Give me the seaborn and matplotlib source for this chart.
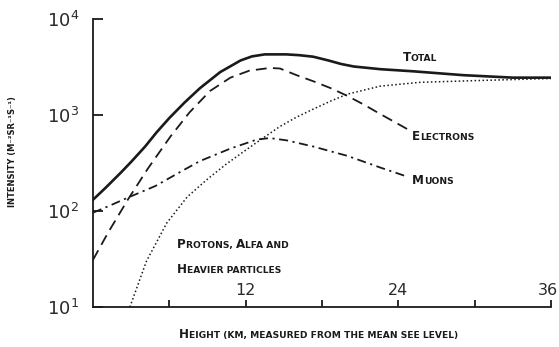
import numpy as np
import pandas as pd
import matplotlib
matplotlib.use("Agg")
import matplotlib.pyplot as plt
import matplotlib.transforms as mtransforms
import seaborn as sns
from matplotlib.offsetbox import TextArea, HPacker, AnnotationBbox
from matplotlib.ticker import NullLocator, FixedLocator

# ---- data ----
total_x = [0, 1, 2.2, 3, 4.1, 5, 6, 7.2, 8.4, 10, 11.6, 12.5, 13.5, 15.2, 16.2, 17.3, 18.5, 19.5, 20.5, 22.6, 25.2, 29.1, 33, 36]
total_y = [131, 175, 252, 325, 470, 660, 930, 1350, 1900, 2800, 3700, 4080, 4280, 4280, 4200, 4050, 3700, 3400, 3200, 3000, 2850, 2600, 2450, 2450]

elec_x = [0, 1.2, 2.75, 4.3, 6.1, 7.6, 9.2, 10.8, 12.3, 13.9, 14.7, 16, 17.3, 18.7, 20, 21.3, 22.6, 24.9]
elec_y = [31, 60, 132, 275, 600, 1070, 1780, 2450, 2900, 3090, 3050, 2600, 2250, 1900, 1580, 1280, 1020, 690]

muon_x = [0, 1.4, 2.75, 4.9, 6.9, 8.4, 10.8, 12.9, 13.9, 15.2, 17.3, 20, 22.6, 24.7]
muon_y = [96, 115, 138, 182, 257, 331, 447, 556, 575, 545, 470, 375, 283, 228]

prot_x = [2.9, 4.2, 5.8, 7.4, 9, 10.5, 12, 13.4, 14.7, 16, 17.3, 18.7, 20, 22.6, 25.7, 30, 36]
prot_y = [10, 30, 75, 140, 215, 310, 430, 580, 760, 950, 1150, 1400, 1650, 2000, 2190, 2280, 2400]

x_ticks = [6, 12, 18, 24, 30, 36]
x_tick_labels = ["", "12", "", "24", "", "36"]
y_ticks = [10, 100, 1000, 10000]

x_label = "Height (km, measured from the mean see level)"
y_label = "INTENSITY (M\u207b\u00b2SR\u207b\u00b9S\u207b\u00b9)"

sns.set_style("ticks")
plt.rcParams["font.family"] = ["DejaVu Sans"]

fig = plt.figure(figsize=(5.59, 3.47), dpi=100)
ax = fig.add_axes([93 / 559, 1 - 307 / 347, (551 - 93) / 559, (307 - 19) / 347])

ink = "#1a1a1a"
sns.lineplot(x=total_x, y=total_y, ax=ax, color=ink, lw=1.9)
sns.lineplot(x=elec_x, y=elec_y, ax=ax, color=ink, lw=1.3).lines[-1].set_dashes((6, 3.5))
sns.lineplot(x=muon_x, y=muon_y, ax=ax, color=ink, lw=1.3).lines[-1].set_dashes((5, 2.5, 1.2, 2.5))
sns.lineplot(x=prot_x, y=prot_y, ax=ax, color=ink, lw=1.1).lines[-1].set_dashes((1, 1.6))
for ln in ax.lines:
    ln.set_solid_joinstyle("round")
    ln.set_dash_joinstyle("round")

ax.set_yscale("log")
ax.set_xlim(0, 36)
ax.set_ylim(10, 10000)
ax.yaxis.set_major_locator(FixedLocator(y_ticks))
ax.yaxis.set_minor_locator(NullLocator())
ax.xaxis.set_minor_locator(NullLocator())
ax.set_xticks(x_ticks)
ax.set_xticklabels(x_tick_labels)

for s in ["top", "right"]:
    ax.spines[s].set_visible(False)
for s in ["left", "bottom"]:
    ax.spines[s].set_linewidth(1.3)
    ax.spines[s].set_color(ink)

ax.tick_params(axis="x", direction="in", length=5, width=1.3, pad=-17,
               labelsize=11.5, labelcolor="#2a2a2a", color=ink)
ax.tick_params(axis="y", direction="in", length=7, width=1.3, pad=10,
               labelsize=13, labelcolor="#2a2a2a", color=ink)

# keep the last x tick label inside the canvas
last = ax.get_xticklabels()[-1]
last.set_horizontalalignment("right")
last.set_transform(last.get_transform() +
                   mtransforms.ScaledTranslation(7 / 100, 0, fig.dpi_scale_trans))

ax.set_xlabel("")
ax.set_ylabel(y_label, fontsize=6.0, fontweight="bold", color=ink)
ax.yaxis.set_label_coords(-0.165, 0.54)


def smallcaps(ax, text, xy, xycoords="data", align=(0, 0.5), big=8.6, small=6.6):
    parts = []
    cur, cur_big = "", None
    for ch in text:
        is_big = ch.isupper() or ch.isdigit()
        if ch == " " or ch in "(),":
            is_big = cur_big if cur_big is not None else False
        if cur_big is None or is_big == cur_big:
            cur += ch
            cur_big = is_big if cur_big is None else cur_big
        else:
            parts.append((cur, cur_big))
            cur, cur_big = ch, is_big
    if cur:
        parts.append((cur, cur_big))
    areas = [TextArea(t.upper(), textprops=dict(fontsize=big if b else small,
                                                 fontweight="bold", color=ink))
             for t, b in parts]
    box = HPacker(children=areas, align="baseline", pad=0, sep=0)
    ab = AnnotationBbox(box, xy, xycoords=xycoords, box_alignment=align,
                        frameon=False, pad=0, annotation_clip=False)
    ax.add_artist(ab)


smallcaps(ax, "Total", (25.7, 4000), align=(0.5, 0.5))
smallcaps(ax, "Electrons", (25.1, 590))
smallcaps(ax, "Muons", (25.1, 210))
smallcaps(ax, "Protons, Alfa and", (6.6, 44.5))
smallcaps(ax, "Heavier particles", (6.6, 24.4))
smallcaps(ax, x_label, (0.493, -0.097), xycoords="axes fraction", align=(0.5, 0.5))

fig.savefig("out.png", dpi=100, facecolor="white")
